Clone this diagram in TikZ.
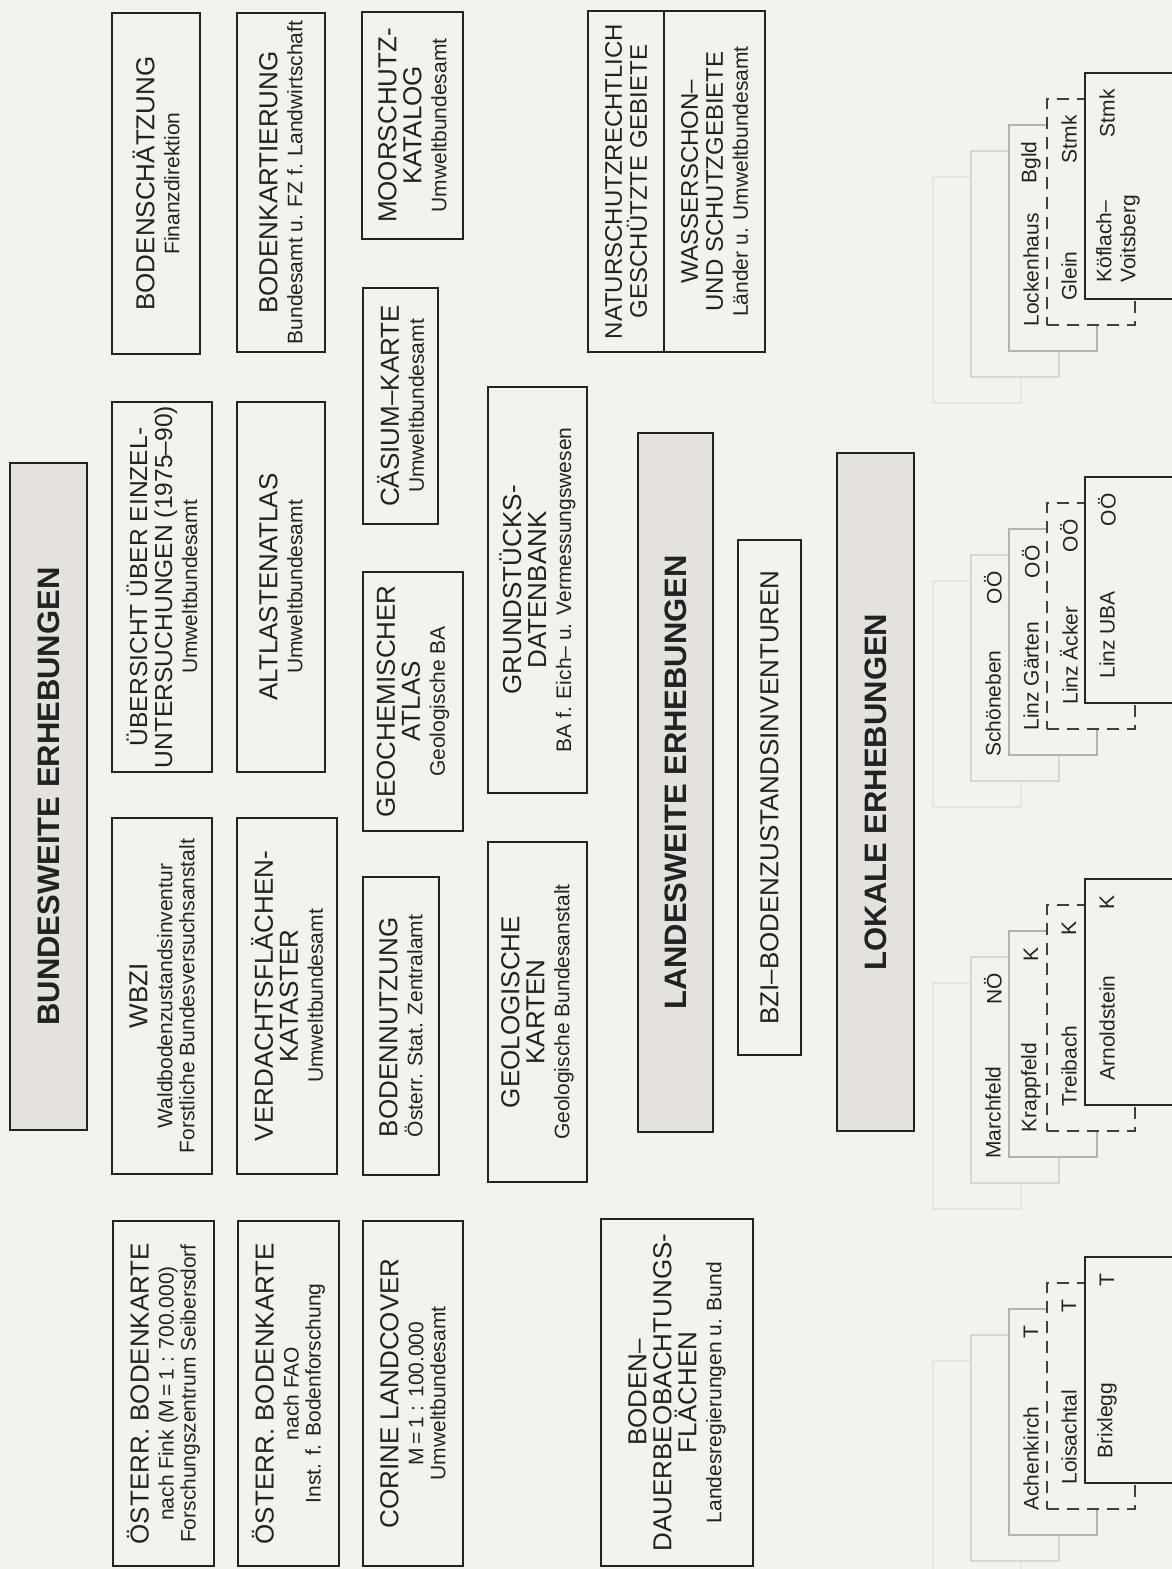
\documentclass[tikz,border=0pt]{standalone}
\usepackage{fontspec}
\setmainfont{Liberation Sans}
\usepackage{tikz}
\usetikzlibrary{calc}
\definecolor{paper}{RGB}{244,242,237}
\definecolor{headfill}{RGB}{229,225,221}
\definecolor{ink}{RGB}{34,34,34}
\newcommand{\orgfont}{\fontsize{10.5}{12}\selectfont}

\begin{document}
\begin{tikzpicture}[x=0.5pt, y=-0.5pt, font=\fontsize{13}{12.5}\selectfont, text=ink,
    box/.style={draw=ink, line width=0.7pt, fill=paper, rotate=90, align=center, inner sep=0pt, outer sep=0pt},
    head/.style={box, fill=headfill, line width=1.4pt, font=\fontsize{15.5}{16}\selectfont\bfseries},
    site/.style={fill=paper, inner sep=0pt, outer sep=0pt, minimum width=44pt, minimum height=113pt},
    ghostA/.style={site, draw=gray!20, line width=0.6pt},
    ghostB/.style={site, draw=gray!32, line width=0.6pt},
    siteA/.style={site, draw=gray!60, line width=0.6pt},
    siteB/.style={site, draw=black!75, line width=0.7pt, dash pattern=on 6pt off 4pt},
    siteC/.style={site, draw=black!85, line width=0.8pt},
    lab/.style={rotate=90, inner sep=0pt, font=\fontsize{10.5}{12}\selectfont}]
  \fill[paper] (0,0) rectangle (1172,1569);
  \useasboundingbox (0,0) rectangle (1172,1569);
  \clip (0,0) rectangle (1172,1569);

  % headings
  \node[head, minimum width=333.5pt, minimum height=38.5pt] (hBund) at (48.5,796.5) {BUNDESWEITE ERHEBUNGEN};
  \node[head, minimum width=349.5pt, minimum height=37.5pt] (hLand) at (675.5,782.5) {LANDESWEITE ERHEBUNGEN};
  \node[head, minimum width=339pt, minimum height=38.5pt] (hLok) at (875.5,792) {LOKALE ERHEBUNGEN};

  % bundesweite surveys
  \node[box, minimum width=170.5pt, minimum height=44pt] (schaetz) at (156,183.5) {BODENSCHÄTZUNG\\{\orgfont Finanzdirektion}};
  \node[box, minimum width=185pt, minimum height=50pt, font=\fontsize{12.3}{12.5}\selectfont] (uebersicht) at (162,587) {ÜBERSICHT ÜBER EINZEL-\\UNTERSUCHUNGEN (1975–90)\\{\orgfont Umweltbundesamt}};
  \node[box, minimum width=178pt, minimum height=50pt] (wbzi) at (162,996) {WBZI\\{\orgfont Waldbodenzustandsinventur}\\[-1.5pt]{\orgfont Forstliche Bundesversuchsanstalt}};
  \node[box, minimum width=172.5pt, minimum height=50.5pt] (oebkFink) at (163.5,1393.5) {ÖSTERR. BODENKARTE\\{\orgfont nach Fink (M\,=\,1 : 700.000)}\\[-1.5pt]{\orgfont Forschungszentrum Seibersdorf}};

  \node[box, minimum width=169.5pt, minimum height=44pt] (kartierung) at (281,182.5) {BODENKARTIERUNG\\{\orgfont Bundesamt u. FZ f. Landwirtschaft}};
  \node[box, minimum width=185pt, minimum height=44pt] (altlasten) at (281,587) {ALTLASTENATLAS\\{\orgfont Umweltbundesamt}};
  \node[box, minimum width=178pt, minimum height=50pt] (verdacht) at (287,996) {VERDACHTSFLÄCHEN-\\KATASTER\\{\orgfont Umweltbundesamt}};
  \node[box, minimum width=172.5pt, minimum height=50.5pt] (oebkFAO) at (288.5,1393.5) {ÖSTERR. BODENKARTE\\{\orgfont nach FAO}\\[-1.5pt]{\orgfont Inst. f. Bodenforschung}};

  \node[box, minimum width=113.5pt, minimum height=50.5pt] (moor) at (412.5,125.5) {MOORSCHUTZ-\\KATALOG\\{\orgfont Umweltbundesamt}};
  \node[box, minimum width=118pt, minimum height=37.5pt] (caesium) at (400.5,406) {CÄSIUM–KARTE\\{\orgfont Umweltbundesamt}};
  \node[box, minimum width=129.5pt, minimum height=50pt] (geochem) at (413,701.5) {GEOCHEMISCHER\\ATLAS\\{\orgfont Geologische BA}};
  \node[box, minimum width=149pt, minimum height=38pt, align=left] (nutzung) at (401,1026) {BODENNUTZUNG\\{\orgfont Österr. Stat. Zentralamt}};
  \node[box, minimum width=172.5pt, minimum height=50pt] (corine) at (413,1393.5) {CORINE LANDCOVER\\{\orgfont M\,=\,1 : 100.000}\\[-1.5pt]{\orgfont Umweltbundesamt}};

  \node[box, minimum width=170.5pt, minimum height=38pt, font=\fontsize{12}{12.5}\selectfont] (natur) at (626,181.5) {NATURSCHUTZRECHTLICH\\GESCHÜTZTE GEBIETE};
  \node[box, minimum width=170.5pt, minimum height=50.5pt, font=\fontsize{12}{12.5}\selectfont] (wasser) at (714.5,181.5) {WASSERSCHON–\\UND SCHUTZGEBIETE\\{\orgfont Länder u. Umweltbundesamt}};
  \node[box, minimum width=203pt, minimum height=49.5pt] (grund) at (537.5,590) {GRUNDSTÜCKS-\\DATENBANK\\{\orgfont BA f. Eich– u. Vermessungswesen}};
  \node[box, minimum width=170pt, minimum height=49.5pt] (geokarten) at (537.5,1012) {GEOLOGISCHE\\KARTEN\\{\orgfont Geologische Bundesanstalt}};
  \node[box, minimum width=173.5pt, minimum height=76pt] (dauer) at (677,1392.5) {BODEN–\\DAUERBEOBACHTUNGS-\\FLÄCHEN\\{\orgfont Landesregierungen u. Bund}};

  % landesweite
  \node[box, minimum width=257.5pt, minimum height=31.5pt] (bzi) at (769.5,797.5) {BZI–BODENZUSTANDSINVENTUREN};

  % lokale: stacked site cards
  \foreach \g/\yc in {lock/73, linz/477, krap/879, achen/1257} {
    \node[ghostA] (\g-g1) at (977,\yc+217) {};
    \node[ghostB] (\g-g2) at (1015,\yc+191) {};
    \node[siteA]  (\g-a)  at (1053,\yc+165) {};
    \node[siteB]  (\g-b)  at (1091,\yc+139) {};
    \node[siteC]  (\g-c)  at (1129,\yc+113) {};
  }
  \foreach \bx/\nm/\cd in {lock-a/Lockenhaus/Bgld, lock-b/Glein/Stmk,
                           linz-g2/Schöneben/OÖ, linz-a/Linz Gärten/OÖ, linz-b/Linz Äcker/OÖ, linz-c/Linz UBA/OÖ,
                           krap-g2/Marchfeld/NÖ, krap-a/Krappfeld/K, krap-b/Treibach/K, krap-c/Arnoldstein/K,
                           achen-a/Achenkirch/T, achen-b/Loisachtal/T, achen-c/Brixlegg/T} {
    \node[lab, anchor=west] (\bx-name) at ($(\bx)+(-22,89)$) {\nm};
    \node[lab, anchor=east] (\bx-code) at ($(\bx)+(-22,-97)$) {\cd};
  }
  \node[lab, anchor=west, align=left] (lock-c-name) at ($(lock-c)+(-11,97)$) {Köflach–\\Voitsberg};
  \node[lab, anchor=east] (lock-c-code) at ($(lock-c)+(-22,-97)$) {Stmk};
\end{tikzpicture}
\end{document}
